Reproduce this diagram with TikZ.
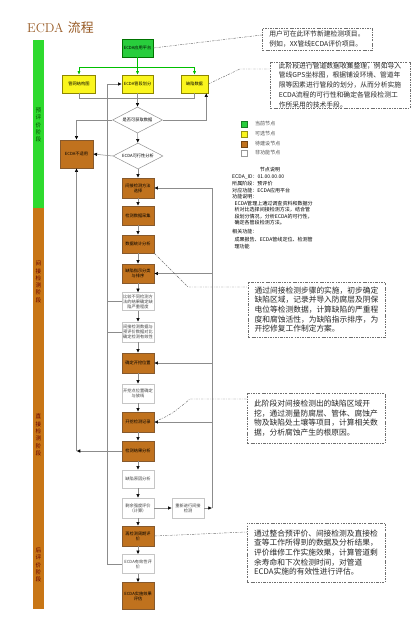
\documentclass[tikz,border=0pt]{standalone}
\usepackage{fontspec}
\newfontfamily\cjk{Noto Sans CJK SC}
\usetikzlibrary{arrows.meta,shapes.geometric}
\definecolor{ecdatitle}{RGB}{150,88,34}
\definecolor{bargreen}{RGB}{46,218,46}
\definecolor{barbrown}{RGB}{200,118,22}
\definecolor{nodegreen}{RGB}{40,205,60}
\definecolor{nodeyellow}{RGB}{250,245,30}
\definecolor{nodebrown}{RGB}{192,114,30}
\definecolor{linegray}{RGB}{140,140,140}
\definecolor{notegray}{RGB}{110,110,110}
\newcommand\boxfont{\cjk\fontsize{3.6}{4.3}\selectfont}
\newcommand\notefont{\cjk\fontsize{6.6}{8.2}\selectfont}
\newcommand\infofont{\cjk\fontsize{4.3}{5.6}\selectfont}
\newcommand\barfont{\cjk\fontsize{4.8}{6.2}\selectfont}

\begin{document}
\begin{tikzpicture}[x=0.03cm, y=-0.03cm, >={Latex[color=black,length=3.2pt,width=3pt]},
  box/.style={draw=#1, minimum width=0.96cm, minimum height=0.6cm, inner sep=0.4pt, align=center, font=\boxfont},
  gbox/.style={box=green!45!black, fill=nodegreen, minimum width=0.93cm, minimum height=0.54cm},
  ybox/.style={box=olive, fill=nodeyellow, minimum height=0.54cm},
  bbox/.style={box=brown!70!black, fill=nodebrown},
  wbox/.style={box=gray!45, fill=white, text=black!75},
  dbox/.style={diamond, aspect=2, draw=linegray, inner sep=0pt, minimum width=1.5cm, minimum height=0.78cm, font=\boxfont},
  link/.style={draw=linegray, line width=0.45pt},
  glink/.style={draw=green!75!black, line width=0.5pt, -{Latex[length=3pt,width=2.6pt]}},
  note/.style={draw=notegray, dash pattern=on 2pt off 1pt on 0.6pt off 1pt, align=left, inner sep=0pt, font=\notefont, text=black!85},
  leader/.style={draw=notegray, dash pattern=on 2pt off 1pt on 0.6pt off 1pt, line width=0.4pt},
  legend/.style={draw=#1!60!black, fill=#1, minimum size=0.18cm, inner sep=0pt},
  barlab/.style={align=center, font=\barfont}]

\useasboundingbox (0,0) rectangle (416,620);

\node[text=ecdatitle, font=\fontsize{11}{12}\selectfont, anchor=west, inner sep=0pt] (title) at (27,28) {ECDA {\cjk 流程}};

\fill[bargreen] (33,40) rectangle (44,208);
\fill[barbrown] (33,208) rectangle (44,609);
\node[barlab, text=green!30!black] (lpre) at (38.5,125) {预\\评\\价\\阶\\段};
\node[barlab, text=red!40!black] (lind) at (38.5,282) {间\\接\\检\\测\\阶\\段};
\node[barlab, text=red!40!black] (ldir) at (38.5,435) {直\\接\\检\\测\\阶\\段};
\node[barlab, text=red!40!black] (lpost) at (38.5,565) {后\\评\\价\\阶\\段};

\node[gbox] (app) at (137.5,48) {ECDA应用平台};
\node[ybox, minimum width=0.99cm] (ymap) at (79,84) {管网结构图};
\node[ybox, minimum width=0.93cm] (yseg) at (137.5,84) {ECDA管段划分};
\node[ybox, minimum width=0.81cm] (ydef) at (194.5,84) {缺陷数据};
\node[dbox] (dget) at (137.5,120) {是否可获取数据};
\node[dbox] (dfeas) at (138,156) {ECDA可行性分析};
\node[bbox, minimum width=0.99cm, minimum height=0.84cm] (nofit) at (76.5,154) {ECDA不适用};

\node[bbox] (selm) at (138,188) {间接检测方法\\选择};
\node[bbox, minimum height=0.57cm] (coll) at (138,215.5) {检测数据采集};
\node[bbox, minimum height=0.54cm] (stat) at (138,244) {数据统计分析};
\node[bbox, minimum height=0.57cm] (rank) at (138,273.5) {缺陷指示分类\\与排序};
\node[wbox, minimum height=0.53cm] (cmp) at (138,301.5) {比较不同检测方\\法的结果确定缺\\陷严重程度};
\node[wbox] (chk) at (138,332) {间接检测数据与\\预评价数据对比\\确定检测有效性};
\node[bbox] (pos) at (138,363) {确定开挖位置};
\node[wbox, minimum height=0.57cm] (mark) at (138,393.5) {开挖点位置确定\\与放线};
\node[bbox] (dig) at (138,422) {开挖检测记录};
\node[bbox] (ana) at (138,451) {检测结果分析};
\node[wbox, minimum height=0.54cm] (cause) at (138,479) {缺陷原因分析};
\node[wbox] (rem) at (138,508) {剩余强度评价\\（计算）};
\node[wbox] (redo) at (188,508) {重新进行间接\\检测};
\node[bbox] (inter) at (138,536) {再检测周期评\\价};
\node[wbox, minimum height=0.57cm] (valid) at (138,564) {ECDA有效性评\\价};
\node[bbox, minimum height=0.81cm] (eval) at (138,596) {ECDA实施效果\\评估};

\coordinate (gj) at (137.5,67);
\draw[glink, -] (app) -- (gj);
\draw[glink] (gj) -| (ymap);
\draw[glink] (gj) -- (yseg);
\draw[glink] (gj) -| (ydef);
\draw[link] (ymap.south) -- ++(0,5) -| (ydef.south);
\draw[link,->] (yseg) -- (dget);
\draw[link,->] (dget.west) -| (nofit.north);
\draw[link,->] (dget.east) -| ([xshift=-0.06cm]ydef.south east);
\draw[link,->] (dget) -- (dfeas);
\draw[link,->] (dfeas.west) -- (nofit.east);
\draw[link,->] (dfeas) -- (selm);
\foreach \a/\b in {selm/coll,coll/stat,stat/rank,rank/cmp,cmp/chk,chk/pos,pos/mark,mark/dig,dig/ana,ana/cause,cause/rem,rem/inter,inter/valid,valid/eval}
  \draw[link,->] (\a) -- (\b);
\draw[link,->] (rem) -- (redo);

\coordinate (rb) at (212,508);
\draw[link,->] (redo) -- (rb);
\draw[link,->] (rb) |- (selm.east);
\draw[link,->] (rb) |- (rank.east);
\draw[link,->] (rb) |- (pos.east);
\draw[link,->] (rb) |- (dig.east);

\coordinate (lb) at (107,564);
\draw[link,->] (valid.west) -- (lb) |- (yseg.west);
\draw[link] (cmp.west) -- (cmp.west -| lb);
\draw[link] (chk.west) -- (chk.west -| lb);
\draw[link,->] (ana.west) -- (ana.west -| nofit.south);
\draw[link,->] (ana.west -| nofit.south) -- (nofit.south);

\node[note, font=\cjk\fontsize{5.8}{8.6}\selectfont, minimum width=3.3cm, minimum height=0.66cm] (note1) at (317,39)
  {用户可在此环节新建检测项目。\\例如，XX管线ECDA评价项目。};
\node[note, font=\cjk\fontsize{5.8}{8.3}\selectfont, minimum width=4.2cm, minimum height=1.38cm] (note2) at (340,85)
  {此阶段进行管道数据收集整理，例如导入\\管线GPS坐标图，根据铺设环境、管道年\\限等因素进行管段的划分，从而分析实施\\ECDA流程的可行性和确定各管段检测工\\作所采用的技术手段。};
\node[note, minimum width=4.11cm, minimum height=1.65cm] (note3) at (316.5,309.5)
  {通过间接检测步骤的实施，初步确定\\缺陷区域，记录并导入防腐层及阴保\\电位等检测数据，计算缺陷的严重程\\度和腐蚀活性，为缺陷指示排序，为\\开挖修复工作制定方案。};
\node[note, minimum width=4.14cm, minimum height=1.5cm] (note4) at (316,418)
  {此阶段对间接检测出的缺陷区域开\\挖，通过测量防腐层、管体、腐蚀产\\物及缺陷处土壤等项目，计算相关数\\据，分析腐蚀产生的根原因。};
\node[note, minimum width=4.14cm, minimum height=1.77cm] (note5) at (316,552.5)
  {通过整合预评价、间接检测及直接检\\查等工作所得到的数据及分析结果，\\评价维修工作实施效果，计算管道剩\\余寿命和下次检测时间，对管道\\ECDA实施的有效性进行评估。};

\draw[leader] (app.east) -- (note1.west |- 0,35);
\draw[leader] (ydef.east) -- (240,69) -- (note2.west |- 0,69);
\draw[leader] (stat.south east) -- (188,287) -- (note3.west |- 0,287);
\draw[leader] (dig.east) .. controls (172,414) .. (190,399) -- (note4.west |- 0,399);
\draw[leader] (inter.east) -- (note5.west |- 0,532);

\node[legend=nodegreen] (lg1) at (244,124) {};
\node[legend=nodeyellow] (lg2) at (244,134) {};
\node[legend=nodebrown] (lg3) at (244,144) {};
\node[legend=white] (lg4) at (244,153) {};
\node[font=\infofont, anchor=west, text=black!70] at (251,124) {当前节点};
\node[font=\infofont, anchor=west, text=black!70] at (251,134) {可选节点};
\node[font=\infofont, anchor=west, text=black!70] at (251,144) {待建设节点};
\node[font=\infofont, anchor=west, text=black!70] at (251,153) {非功能节点};

\node[font=\infofont] (infohead) at (270,170) {节点说明};
\node[font=\infofont, align=left, anchor=north west, inner sep=0pt] (info) at (232,175)
  {ECDA\_ID：01.00.00.00\\所属阶段：预评价\\对应功能：ECDA应用平台\\功能说明：\\
  \hspace{2pt}ECDA管理上通过调查资料和数据分\\\hspace{2pt}析对比选择间接检测方法，结合管\\\hspace{2pt}段划分情况，分析ECDA的可行性，\\\hspace{2pt}确定各管段检测方法。\\[2pt]
  相关功能：\\[1pt]\hspace{2pt}成果报告、ECDA管线定位、检测管\\\hspace{2pt}理功能};
\end{tikzpicture}
\end{document}
